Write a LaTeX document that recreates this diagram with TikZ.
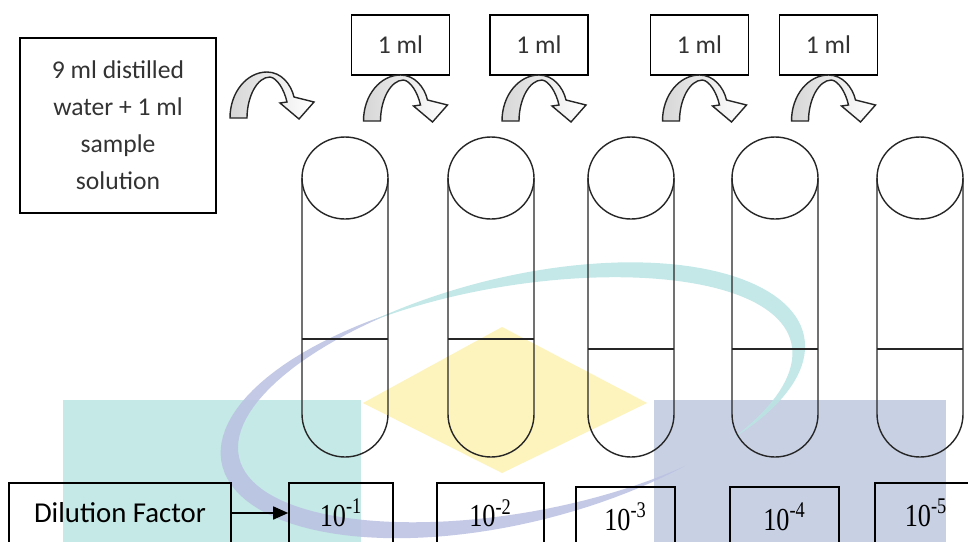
\documentclass[tikz,border=0pt]{standalone}
\usepackage{fontspec}
\setmainfont{Carlito}
\newfontfamily\serifnum{Liberation Serif}
\usetikzlibrary{arrows.meta}
\definecolor{wmteal}{RGB}{196,233,230}
\definecolor{wmblue}{RGB}{200,208,228}
\definecolor{wmyellow}{RGB}{253,243,188}
\definecolor{wmarcblue}{RGB}{186,192,226}
\definecolor{wmarcteal}{RGB}{186,229,227}
\tikzset{
  box/.style={draw, line width=0.8pt, inner sep=0pt},
  mlbox/.style={box, minimum width=49pt, minimum height=30pt, font=\fontsize{12.8}{15}\selectfont, text=black!80},
  powbox/.style={box, minimum height=30pt, font=\serifnum\fontsize{16}{18}\selectfont},
  tube/.style={line width=0.7pt, black!85},
  bendarrow/.style={line width=0.7pt, black!85, left color=gray!32, middle color=white, right color=white}
}
\newcommand{\pw}[1]{\scalebox{0.82}[1]{10\textsuperscript{#1}}}
% half widths of the two swoosh bands
\newcommand{\wblue}{(10*sin((\s-110)*0.938))}
\newcommand{\wteal}{(9*sin((\s+45)*1.125))}

\begin{document}
\begin{tikzpicture}[x=0.5pt,y=-0.5pt]
\useasboundingbox (0,0) rectangle (968,541);
\clip (0,0) rectangle (968,541);
\fill[white] (0,0) rectangle (968,541);

% logo in the background
\fill[wmteal] (63,400) rectangle (361,545);
\fill[wmblue] (654,400) rectangle (946,545);
\fill[wmyellow] (502,327) -- (647,403) -- (502,473) -- (363,403) -- cycle;
\fill[wmarcblue, opacity=.85]
  plot[variable=\s, domain=110:302, samples=70]
    ({514+(290+\wblue)*cos(\s)*0.978-(118+\wblue)*sin(\s)*0.208}, {400-(290+\wblue)*cos(\s)*0.208-(118+\wblue)*sin(\s)*0.978})
  -- plot[variable=\s, domain=302:110, samples=70]
    ({514+(290-\wblue)*cos(\s)*0.978-(118-\wblue)*sin(\s)*0.208}, {400-(290-\wblue)*cos(\s)*0.208-(118-\wblue)*sin(\s)*0.978})
  -- cycle;
\fill[wmarcteal, opacity=.85]
  plot[variable=\s, domain=-45:115, samples=70]
    ({514+(290+\wteal)*cos(\s)*0.978-(118+\wteal)*sin(\s)*0.208}, {400-(290+\wteal)*cos(\s)*0.208-(118+\wteal)*sin(\s)*0.978})
  -- plot[variable=\s, domain=115:-45, samples=70]
    ({514+(290-\wteal)*cos(\s)*0.978-(118-\wteal)*sin(\s)*0.208}, {400-(290-\wteal)*cos(\s)*0.208-(118-\wteal)*sin(\s)*0.978})
  -- cycle;

% sample box and the four transfer volumes
\node[box, minimum width=98pt, minimum height=87.5pt, align=center, text=black!80,
  font=\fontsize{12.8}{18.5}\selectfont] (mix) at (118,125.5) {9 ml distilled\\water + 1 ml\\sample\\solution};
\node[mlbox] (ml1) at (400.5,45) {1 ml};
\node[mlbox] (ml2) at (539,45) {1 ml};
\node[mlbox] (ml3) at (699.5,45) {1 ml};
\node[mlbox] (ml4) at (828.5,45) {1 ml};

% bent transfer arrows
\foreach \ax/\ay in {267/72,400.5/75,539/75,699.5/75,828.5/75} {
  \begin{scope}[shift={(\ax,\ay)}]
    \draw[bendarrow] (-37,46) .. controls (-37,20) and (-20,0) .. (0,0)
      .. controls (14,0) and (24,12) .. (27,25) -- (47,30) -- (32,47) -- (13,31) -- (20,30)
      .. controls (17,17) and (10,6) .. (3,5) .. controls (-10,5) and (-20,25) .. (-20,46) -- cycle;
  \end{scope}
}

% test tubes
\foreach \cx/\ly in {345/339,491/339,631/349,775/349,920/349} {
  \draw[tube] (\cx,178) ellipse [x radius=43, y radius=41];
  \draw[tube] (\cx-43,178) -- (\cx-43,414) arc[start angle=180, end angle=0, x radius=43, y radius=43] -- (\cx+43,178);
  \draw[tube] (\cx-43,\ly) -- (\cx+43,\ly);
}

% dilution factors
\node[box, minimum width=111pt, minimum height=30pt, font=\fontsize{14.4}{16}\selectfont] (df) at (120,513) {Dilution Factor};
\node[powbox, minimum width=52pt] (p1) at (341,513) {\pw{-1}};
\node[powbox, minimum width=53.5pt] (p2) at (490.5,513) {\pw{-2}};
\node[powbox, minimum width=49.5pt] (p3) at (625.5,517) {\pw{-3}};
\node[powbox, minimum width=54.5pt] (p4) at (784.5,517) {\pw{-4}};
\node[powbox, minimum width=51pt] (p5) at (926,513) {\pw{-5}};
\draw[line width=0.8pt, -{Triangle[length=7.5pt,width=6.5pt]}] (df) -- (p1);
\end{tikzpicture}
\end{document}
